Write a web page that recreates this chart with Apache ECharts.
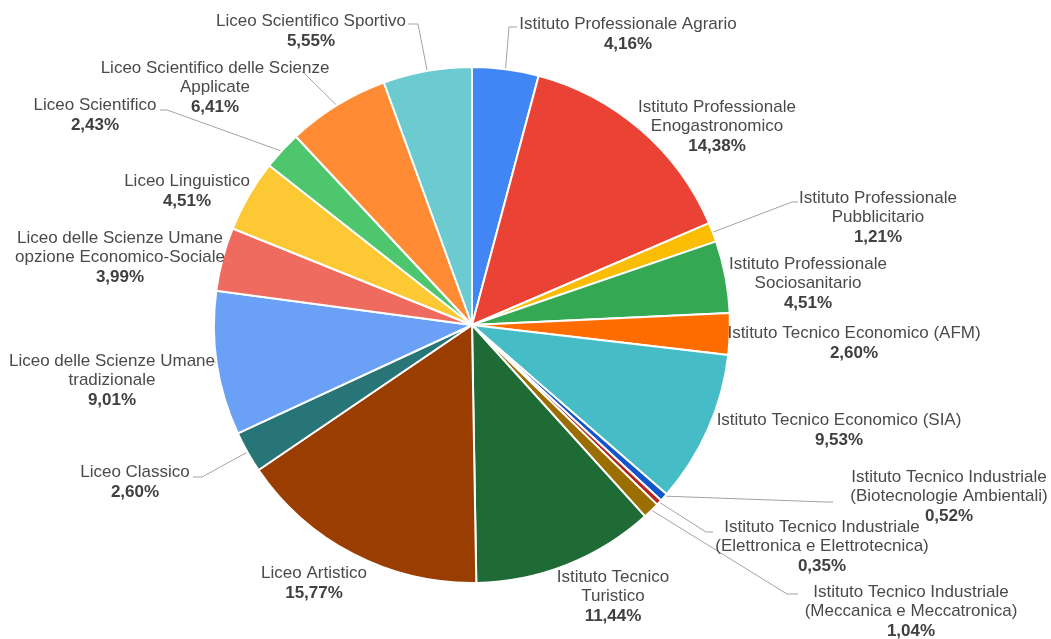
<!DOCTYPE html>
<html>
<head>
<meta charset="utf-8">
<script src="https://cdn.jsdelivr.net/npm/echarts@6/dist/echarts.min.js"></script>
<style>
  html, body { margin: 0; padding: 0; background: #fff; }
  #chart { width: 1051px; height: 639px; }
</style>
</head>
<body>
<div id="chart"></div>
<script>
// slices, clockwise from 12 o'clock
var categories = [
  'Istituto Professionale Agrario',
  'Istituto Professionale\nEnogastronomico',
  'Istituto Professionale\nPubblicitario',
  'Istituto Professionale\nSociosanitario',
  'Istituto Tecnico Economico (AFM)',
  'Istituto Tecnico Economico (SIA)',
  'Istituto Tecnico Industriale\n(Biotecnologie Ambientali)',
  'Istituto Tecnico Industriale\n(Elettronica e Elettrotecnica)',
  'Istituto Tecnico Industriale\n(Meccanica e Meccatronica)',
  'Istituto Tecnico\nTuristico',
  'Liceo Artistico',
  'Liceo Classico',
  'Liceo delle Scienze Umane\ntradizionale',
  'Liceo delle Scienze Umane\nopzione Economico-Sociale',
  'Liceo Linguistico',
  'Liceo Scientifico',
  'Liceo Scientifico delle Scienze\nApplicate',
  'Liceo Scientifico Sportivo'
];
var percents = [4.16, 14.38, 1.21, 4.51, 2.60, 9.53, 0.52, 0.35, 1.04, 11.44, 15.77, 2.60, 9.01, 3.99, 4.51, 2.43, 6.41, 5.55];

var colors = [
  '#4285f4', '#ea4335', '#fbbc04', '#34a853', '#ff6d01', '#46bdc6',
  '#1155cc', '#b7221c', '#9a6f00', '#1e6b35', '#993d00', '#277577',
  '#6aa0f5', '#ef6a5f', '#fcc934', '#4ec66e', '#ff8b35', '#6ccad1'
];

// label placement: [text centre x, first line centre y, bend point, end point] (null = no leader line)
var cx = 472, cy = 325, R = 258;
var labelPos = [
  [628, 24, [509, 27], [517, 27]],
  [717, 107, null, null],
  [878, 198, [792, 202], [798, 202]],
  [808, 264, null, null],
  [854, 333, null, null],
  [839, 420, null, null],
  [949, 477, [826, 502], [833, 502]],
  [822, 527, [706, 532], [713, 532]],
  [911, 592, [787, 594], [798, 594]],
  [613, 577, null, null],
  [314, 573, null, null],
  [135, 472, [202, 477], [193, 477]],
  [112, 361, [215, 362], [213, 362]],
  [120, 238, null, null],
  [187, 181, null, null],
  [95, 105, [167, 110], [160, 110]],
  [215, 68, [304, 73], [302, 72]],
  [311, 21, [418, 24], [408, 24]]
];

var total = percents.reduce(function (a, b) { return a + b; }, 0);
var midAngles = [];
var acc = 0;
percents.forEach(function (v) {
  midAngles.push((acc + v / 2) / total * 2 * Math.PI);
  acc += v;
});

var chart = echarts.init(document.getElementById('chart'));
var option = {
  animation: false,
  series: [{
    type: 'pie',
    center: [cx, cy],
    radius: R,
    startAngle: 90,
    clockwise: true,
    avoidLabelOverlap: false,
    itemStyle: { borderColor: '#fff', borderWidth: 2 },
    label: {
      show: true,
      position: 'outside',
      width: 320,
      formatter: function (p) {
        return '{n|' + p.name + '}\n{p|' + p.value.toFixed(2).replace('.', ',') + '%}';
      },
      rich: {
        n: { fontFamily: 'Liberation Sans, Arial', fontSize: 17, color: '#4a4a4a', lineHeight: 19, align: 'center' },
        p: { fontFamily: 'Liberation Sans, Arial', fontSize: 17, fontWeight: 'bold', color: '#404040', lineHeight: 21, align: 'center' }
      }
    },
    labelLine: {
      smooth: false,
      lineStyle: { color: '#a3a3a3', width: 1 }
    },
    labelLayout: function (params) {
      var i = params.dataIndex;
      var lp = labelPos[i];
      var out = { x: lp[0], y: lp[1] - 9.5, align: 'center', verticalAlign: 'top' };
      if (lp[2]) {
        var a = midAngles[i];
        out.labelLinePoints = [
          [cx + (R - 2) * Math.sin(a), cy - (R - 2) * Math.cos(a)],
          lp[2],
          lp[3]
        ];
      }
      return out;
    },
    data: categories.map(function (name, i) {
      return {
        name: name,
        value: percents[i],
        itemStyle: { color: colors[i] },
        labelLine: { show: !!labelPos[i][2] }
      };
    })
  }]
};
chart.setOption(option);
</script>
</body>
</html>
